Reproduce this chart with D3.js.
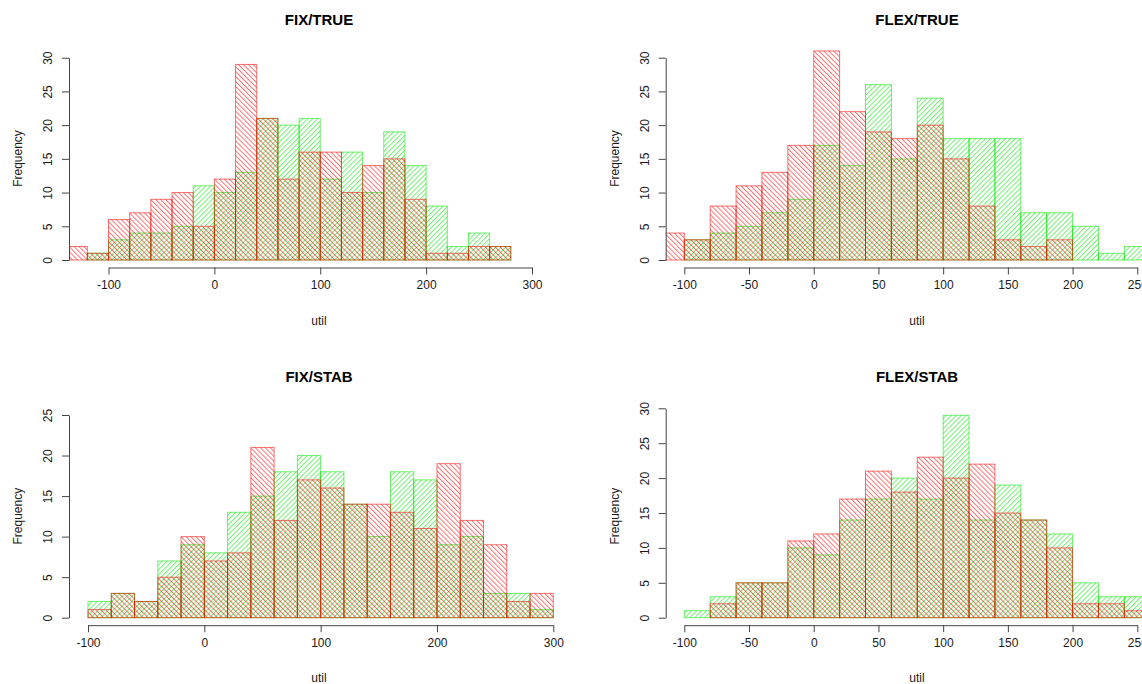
<!DOCTYPE html>
<html>
<head>
<meta charset="utf-8">
<script src="https://cdn.jsdelivr.net/npm/d3@7"></script>
<style>
    body { margin: 0; background: #fff; }
    text { font-family: "Liberation Sans", Arial, sans-serif; fill: #1a1a1a; }
</style>
</head>
<body>
<div id="chart"></div>
<script>
// bin width of every histogram
var binWidth = 20;

// FIX/TRUE
var fixTrueRedStart = -140;
var fixTrueRed = [2, 1, 6, 7, 9, 10, 5, 12, 29, 21, 12, 16, 16, 10, 14, 15, 9, 1, 1, 2, 2];
var fixTrueGreenStart = -120;
var fixTrueGreen = [1, 3, 4, 4, 5, 11, 10, 13, 21, 20, 21, 12, 16, 10, 19, 14, 8, 2, 4, 2];

// FLEX/TRUE
var flexTrueRedStart = -120;
var flexTrueRed = [4, 3, 8, 11, 13, 17, 31, 22, 19, 18, 20, 15, 8, 3, 2, 3];
var flexTrueGreenStart = -100;
var flexTrueGreen = [3, 4, 5, 7, 9, 17, 14, 26, 15, 24, 18, 18, 18, 7, 7, 5, 1, 2];

// FIX/STAB
var fixStabRedStart = -120;
var fixStabRed = [0, 1, 3, 2, 5, 10, 7, 8, 21, 12, 17, 16, 14, 14, 13, 11, 19, 12, 9, 2, 3];
var fixStabGreenStart = -100;
var fixStabGreen = [2, 3, 2, 7, 9, 8, 13, 15, 18, 20, 18, 14, 10, 18, 17, 9, 10, 3, 3, 1];

// FLEX/STAB
var flexStabRedStart = -80;
var flexStabRed = [2, 5, 5, 11, 12, 17, 21, 18, 23, 20, 22, 15, 14, 10, 2, 2, 1];
var flexStabGreenStart = -100;
var flexStabGreen = [1, 3, 5, 5, 10, 9, 14, 17, 20, 17, 29, 14, 19, 14, 12, 5, 3, 3];

var ticksFix = [-100, 0, 100, 200, 300];
var ticksFlex = [-100, -50, 0, 50, 100, 150, 200, 250];
var yTicks30 = [0, 5, 10, 15, 20, 25, 30];
var yTicks25 = [0, 5, 10, 15, 20, 25];

var panels = [
    { title: 'FIX/TRUE', red: fixTrueRed, redStart: fixTrueRedStart, green: fixTrueGreen, greenStart: fixTrueGreenStart,
      xTicks: ticksFix, yTicks: yTicks30,
      left: 69, xRange: [108.5, 532], yRange: [260, 57.7], cx: 319, top: 0 },
    { title: 'FLEX/TRUE', red: flexTrueRed, redStart: flexTrueRedStart, green: flexTrueGreen, greenStart: flexTrueGreenStart,
      xTicks: ticksFlex, yTicks: yTicks30,
      left: 665.7, xRange: [684.3, 1137.3], yRange: [260, 57.7], cx: 917, top: 0 },
    { title: 'FIX/STAB', red: fixStabRed, redStart: fixStabRedStart, green: fixStabGreen, greenStart: fixStabGreenStart,
      xTicks: ticksFix, yTicks: yTicks25,
      left: 69, xRange: [88, 553.3], yRange: [617.7, 415], cx: 319, top: 357 },
    { title: 'FLEX/STAB', red: flexStabRed, redStart: flexStabRedStart, green: flexStabGreen, greenStart: flexStabGreenStart,
      xTicks: ticksFlex, yTicks: yTicks30,
      left: 665.7, xRange: [684.3, 1137.3], yRange: [617.7, 408.3], cx: 917, top: 357 }
];

var width = 1142;
var height = 684;
var hatchGap = 3.5;
var redColor = 'rgba(245,0,0,0.55)';
var greenColor = 'rgba(0,225,0,0.55)';
var axisColor = '#444';

var svg = d3.select('#chart')
    .append('svg')
    .attr('width', width)
    .attr('height', height);

var defs = svg.append('defs');

function hatch(id, angle, color) {
    var p = defs.append('pattern')
        .attr('id', id)
        .attr('patternUnits', 'userSpaceOnUse')
        .attr('width', hatchGap)
        .attr('height', hatchGap)
        .attr('patternTransform', 'rotate(' + angle + ')');
    p.append('line')
        .attr('x1', 0.5).attr('y1', -1)
        .attr('x2', 0.5).attr('y2', hatchGap + 1)
        .style('stroke', color)
        .style('stroke-width', 1);
}
hatch('hatch-green', 45, greenColor);
hatch('hatch-red', -45, redColor);

function toBins(counts, start) {
    return counts.map(function (c, i) {
        return { x0: start + i * binWidth, x1: start + (i + 1) * binWidth, n: c };
    });
}

panels.forEach(function (p, k) {
    var x = d3.scaleLinear()
        .domain([p.xTicks[0], p.xTicks[p.xTicks.length - 1]])
        .range(p.xRange);
    var y = d3.scaleLinear()
        .domain([0, p.yTicks[p.yTicks.length - 1]])
        .range(p.yRange);

    var zeroY = y(0);
    var axisY = zeroY + 7.5;

    defs.append('clipPath')
        .attr('id', 'clip' + k)
        .append('rect')
        .attr('x', p.left)
        .attr('y', y.range()[1] - 40)
        .attr('width', 700)
        .attr('height', zeroY - y.range()[1] + 42);

    var g = svg.append('g');

    var bars = g.append('g').attr('clip-path', 'url(#clip' + k + ')');

    // green first, red on top
    [[p.green, p.greenStart, 'hatch-green', greenColor],
     [p.red, p.redStart, 'hatch-red', redColor]].forEach(function (s) {
        bars.selectAll(null)
            .data(toBins(s[0], s[1]))
            .enter()
            .append('rect')
            .attr('x', function (d) { return x(d.x0); })
            .attr('y', function (d) { return y(d.n); })
            .attr('width', function (d) { return x(d.x1) - x(d.x0); })
            .attr('height', function (d) { return zeroY - y(d.n); })
            .style('fill', 'url(#' + s[2] + ')')
            .style('stroke', s[3])
            .style('stroke-width', 1);
    });

    // x axis (plain hyphen for negatives, like R)
    var xAxis = d3.axisBottom(x)
        .tickValues(p.xTicks)
        .tickFormat(function (d) { return String(d); })
        .tickSize(7).tickPadding(6).tickSizeOuter(0);
    var gx = g.append('g')
        .attr('transform', 'translate(0,' + axisY + ')')
        .call(xAxis);
    gx.select('.domain').style('stroke', axisColor);
    gx.selectAll('.tick line').style('stroke', axisColor);
    gx.selectAll('.tick text')
        .style('font-size', '12px')
        .style('font-family', '"Liberation Sans", Arial, sans-serif')
        .style('fill', '#1a1a1a');

    // y axis, labels rotated as in R
    var yAxis = d3.axisLeft(y).tickValues(p.yTicks).tickSize(7).tickSizeOuter(0).tickFormat('');
    var gy = g.append('g')
        .attr('transform', 'translate(' + p.left + ',0)')
        .call(yAxis);
    gy.select('.domain').style('stroke', axisColor);
    gy.selectAll('.tick line').style('stroke', axisColor);
    gy.selectAll('.tick')
        .append('text')
        .attr('transform', 'translate(-21,0) rotate(-90)')
        .attr('text-anchor', 'middle')
        .attr('dy', '0.35em')
        .style('font-size', '12px')
        .style('font-family', '"Liberation Sans", Arial, sans-serif')
        .style('fill', '#1a1a1a')
        .text(function (d) { return d; });

    // title
    g.append('text')
        .attr('x', p.cx)
        .attr('y', p.top + 20)
        .attr('dy', '0.35em')
        .attr('text-anchor', 'middle')
        .style('font-size', '15px')
        .style('font-weight', 'bold')
        .style('fill', '#000')
        .text(p.title);

    // axis titles
    g.append('text')
        .attr('x', p.cx)
        .attr('y', axisY + 53)
        .attr('dy', '0.35em')
        .attr('text-anchor', 'middle')
        .style('font-size', '12px')
        .text('util');

    g.append('text')
        .attr('transform', 'translate(' + (p.left - 51) + ',' + (zeroY - 101.5) + ') rotate(-90)')
        .attr('dy', '0.35em')
        .attr('text-anchor', 'middle')
        .style('font-size', '12px')
        .text('Frequency');
});
</script>
</body>
</html>
